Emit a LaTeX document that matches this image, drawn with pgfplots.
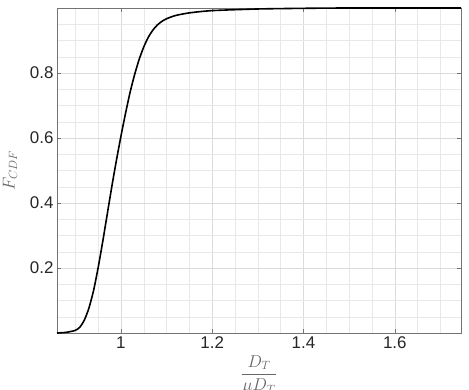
\documentclass[border=0pt]{standalone}
\usepackage{pgfplots}
\pgfplotsset{compat=1.18}
\usepackage{fontspec}
\setmainfont{Liberation Sans}
\begin{document}
\begin{tikzpicture}
\begin{axis}[
  at={(0,0)}, anchor=south west,
  scale only axis,
  width=404bp, height=325bp,
  xmin=0.86, xmax=1.745,
  ymin=0, ymax=1,
  xtick={1,1.2,1.4,1.6},
  ytick={0.2,0.4,0.6,0.8},
  minor xtick={0.9,0.95,1.05,1.1,1.15,1.25,1.3,1.35,1.45,1.5,1.55,1.65,1.7},
  minor ytick={0.05,0.1,0.15,0.25,0.3,0.35,0.45,0.5,0.55,0.65,0.7,0.75,0.85,0.9,0.95},
  grid=both,
  major grid style={line width=0.5pt, draw=black!14},
  minor grid style={line width=0.4pt, draw=black!9},
  axis line style={draw=black!55, line width=0.7pt},
  tick style={draw=black!55, line width=0.6pt},
  major tick length=4.5bp,
  minor tick length=0pt,
  tick align=inside,
  xtick pos=both, ytick pos=both,
  /pgf/number format/assume math mode=true,
  tick label style={font=\fontsize{17}{20}\selectfont, text=black!85},
  xlabel={$\displaystyle\frac{D_T}{\mu D_T}$},
  ylabel={$F_{CDF}$},
  label style={font=\fontsize{17}{20}\selectfont, text=black!60},
  xlabel style={yshift=0bp},
  ylabel style={yshift=6bp},
]
\addplot[black, line width=1.6bp, smooth, tension=0.4] coordinates {
(0.86,0.0) (0.88,0.002) (0.90,0.008) (0.91,0.018) (0.92,0.04) (0.93,0.077)
(0.94,0.13) (0.95,0.20) (0.96,0.28) (0.97,0.365) (0.98,0.45) (0.99,0.53)
(1.00,0.605) (1.01,0.675) (1.02,0.74) (1.03,0.795) (1.04,0.842) (1.05,0.88)
(1.06,0.91) (1.07,0.932) (1.08,0.948) (1.09,0.959) (1.10,0.967) (1.12,0.977)
(1.15,0.985) (1.20,0.992) (1.30,0.997) (1.40,0.999) (1.50,1.0) (1.745,1.0)
};
\end{axis}
\pgfresetboundingbox
\path[use as bounding box] (-57bp,-57bp) rectangle (412bp,333bp);
\end{tikzpicture}
\end{document}
